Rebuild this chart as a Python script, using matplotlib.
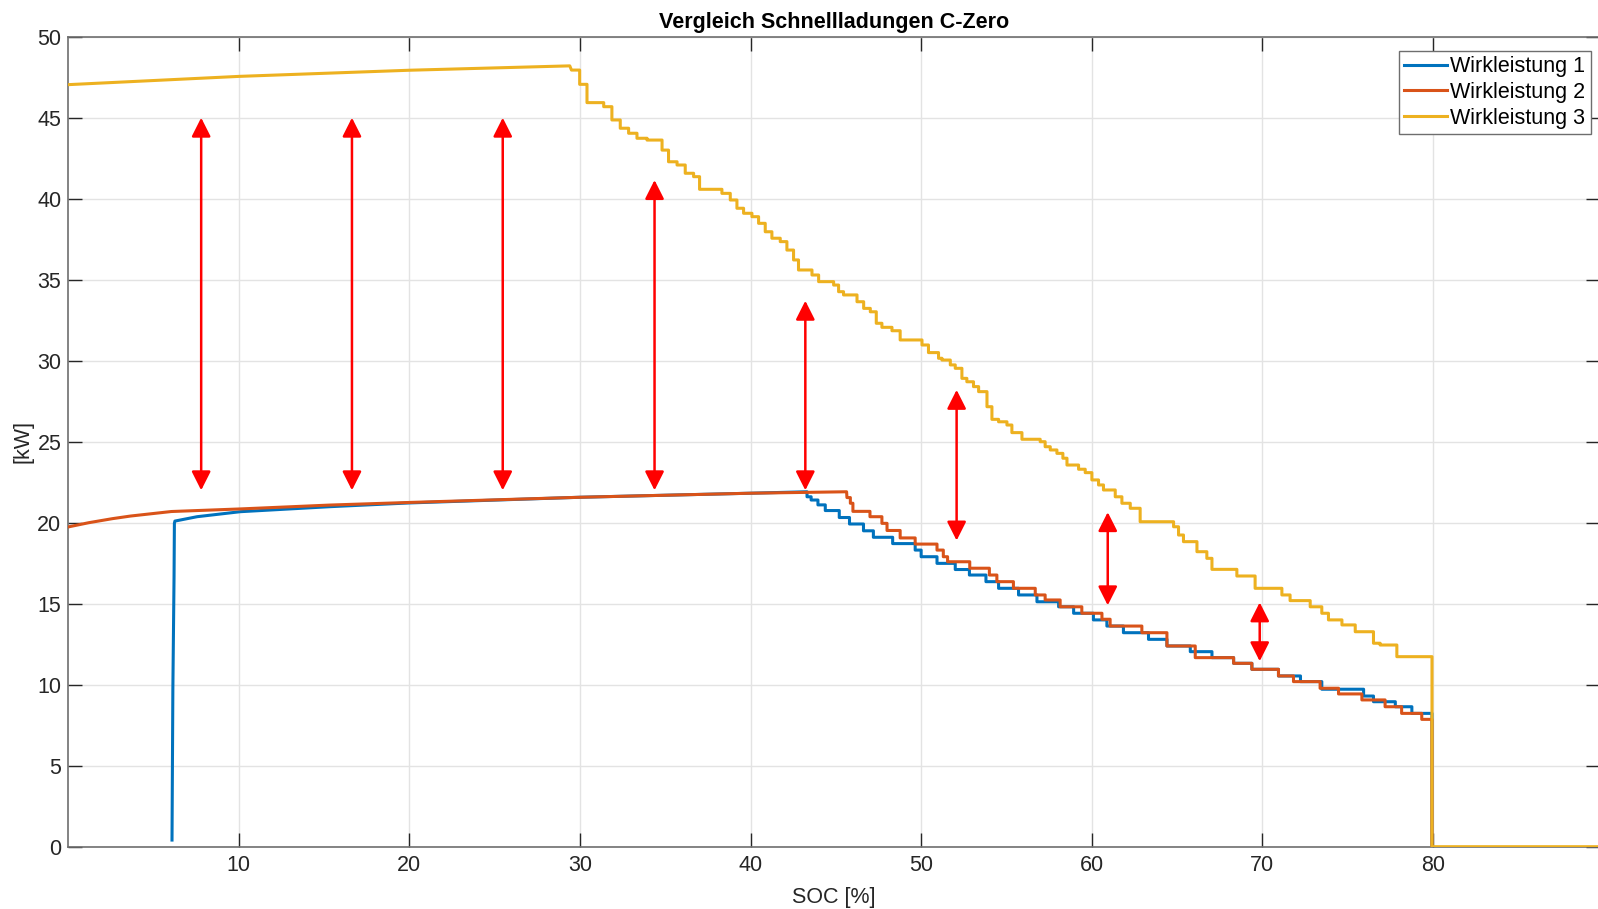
import numpy as np
import matplotlib
matplotlib.use('Agg')
import matplotlib.pyplot as plt
from matplotlib.patches import ArrowStyle

plt.rcParams['font.family'] = ['Liberation Sans', 'DejaVu Sans']

# --- data ---
# smooth rising parts: (SOC, kW)
w1_x = [6.08, 6.13, 6.20, 6.22, 6.25, 7.55, 10.09, 15.36, 20.0, 30.0, 40.0, 43.31]
w1_y = [0.41, 9.70, 16.7, 19.96, 20.10, 20.37, 20.68, 20.99, 21.22, 21.57, 21.82, 21.91]
w2_x = [0.0, 1.2, 2.59, 3.64, 6.04, 10.09, 15.36, 20.0, 30.0, 40.0, 45.63]
w2_y = [19.74, 20.0, 20.25, 20.41, 20.69, 20.85, 21.09, 21.25, 21.57, 21.82, 21.91]
w3_x = [0.0, 10.0, 20.0, 29.4]
w3_y = [47.04, 47.55, 47.93, 48.20]

# staircase parts: step start SOC and level
w1_sx = [43.31, 43.55, 43.95, 44.38, 45.20, 45.80, 46.62, 47.20, 48.33, 49.65, 50.00,
         50.93, 52.00, 52.83, 53.80, 54.54, 55.71, 56.79, 58.06, 58.94, 60.10, 60.89,
         61.86, 63.33, 64.41, 65.78, 67.05, 68.32, 69.39, 70.95, 72.24, 73.49, 75.94,
         76.52, 77.80, 78.77, 79.95]
w1_sy = [21.60, 21.40, 21.10, 20.75, 20.32, 19.92, 19.50, 19.10, 18.71, 18.31, 17.90,
         17.49, 17.11, 16.77, 16.36, 15.95, 15.54, 15.12, 14.81, 14.41, 14.00, 13.62,
         13.21, 12.80, 12.39, 12.04, 11.67, 11.32, 10.95, 10.54, 10.19, 9.72, 9.30,
         8.95, 8.64, 8.23, 0.0]
w2_sx = [45.65, 45.85, 46.00, 47.00, 47.70, 48.00, 48.77, 49.65, 50.93, 51.30, 51.55,
         52.85, 54.00, 54.44, 55.41, 56.69, 57.27, 58.15, 59.42, 60.60, 61.08, 62.94,
         64.41, 66.07, 68.32, 69.39, 70.95, 71.83, 73.39, 74.47, 75.84, 77.20, 78.17,
         79.35, 79.95]
w2_sy = [21.55, 21.20, 20.70, 20.37, 19.96, 19.52, 19.06, 18.68, 18.31, 17.90, 17.59,
         17.19, 16.77, 16.36, 15.95, 15.54, 15.23, 14.81, 14.41, 14.04, 13.62, 13.21,
         12.39, 11.67, 11.32, 10.95, 10.54, 10.19, 9.78, 9.43, 9.06, 8.64, 8.23,
         7.86, 0.0]
w3_sx = [29.50, 29.98, 30.41, 31.39, 31.87, 32.36, 32.85, 33.34, 33.93, 34.81, 35.19,
         35.69, 36.17, 36.66, 37.01, 38.32, 38.81, 39.20, 39.59, 40.08, 40.47, 40.86,
         41.25, 41.74, 42.13, 42.52, 42.81, 43.60, 43.99, 44.87, 45.16, 45.45, 46.24,
         46.63, 47.02, 47.37, 47.70, 48.29, 48.77, 50.05, 50.43, 51.02, 51.22, 51.71,
         52.00, 52.39, 52.68, 53.07, 53.37, 53.86, 54.15, 54.54, 55.03, 55.32, 55.91,
         56.98, 57.27, 57.57, 57.96, 58.31, 58.55, 59.23, 59.62, 60.01, 60.40, 60.69,
         61.38, 61.77, 62.26, 62.84, 64.80, 65.09, 65.38, 66.17, 66.75, 67.05, 68.51,
         69.58, 71.15, 71.63, 72.81, 73.49, 73.88, 74.67, 75.45, 76.52, 76.91, 77.89,
         79.95]
w3_sy = [47.94, 47.06, 45.93, 45.68, 44.86, 44.35, 44.04, 43.73, 43.62, 43.00, 42.28,
         42.08, 41.57, 41.36, 40.58, 40.33, 39.92, 39.41, 39.10, 38.89, 38.48, 37.96,
         37.56, 37.35, 36.83, 36.22, 35.60, 35.29, 34.88, 34.67, 34.26, 34.06, 33.64,
         33.23, 33.02, 32.31, 32.06, 31.85, 31.28, 30.97, 30.50, 30.15, 30.04, 29.74,
         29.53, 28.91, 28.70, 28.40, 28.09, 27.16, 26.38, 26.23, 26.03, 25.56, 25.15,
         25.00, 24.69, 24.49, 24.28, 23.98, 23.56, 23.30, 23.09, 22.64, 22.33, 22.02,
         21.60, 21.20, 20.89, 20.06, 19.75, 19.24, 18.83, 18.21, 17.80, 17.12, 16.71,
         15.95, 15.54, 15.19, 14.81, 14.41, 14.00, 13.69, 13.27, 12.56, 12.45, 11.73,
         0.0]
w3_end = 89.8

# red double arrows: SOC, lower end, upper end
arrow_x = [7.79, 16.63, 25.47, 34.37, 43.21, 52.08, 60.94, 69.85]
arrow_lo = [22.0, 22.0, 22.0, 22.0, 22.0, 18.9, 14.9, 11.45]
arrow_hi = [45.0, 45.0, 45.0, 41.15, 33.7, 28.2, 20.65, 15.08]


def stairs(sx, sy, x_end):
    px, py = [], []
    for i in range(len(sx)):
        x1 = sx[i + 1] if i + 1 < len(sx) else x_end
        px += [sx[i], x1]
        py += [sy[i], sy[i]]
    return px, py


fig = plt.figure(figsize=(15.98, 9.09), dpi=100)
ax = fig.add_axes([68.3 / 1598, 62.3 / 909, (1600 - 68.3) / 1598, 810 / 909])

colors = ['#0072BD', '#D95319', '#EDB120']
series = [(w1_x, w1_y, w1_sx, w1_sy, 79.95),
          (w2_x, w2_y, w2_sx, w2_sy, 79.95),
          (w3_x, w3_y, w3_sx, w3_sy, w3_end)]
for i, (x, y, sx, sy, xe) in enumerate(series):
    px, py = stairs(sx, sy, xe)
    ax.plot(list(x) + px, list(y) + py, color=colors[i], linewidth=2.2,
            label='Wirkleistung %d' % (i + 1), zorder=3)

style = ArrowStyle('<|-|>', head_length=11.5, head_width=5.8)
for x, lo, hi in zip(arrow_x, arrow_lo, arrow_hi):
    ax.annotate('', xy=(x, hi), xytext=(x, lo),
                arrowprops=dict(arrowstyle=style, color='#ff0000', lw=1.8,
                                shrinkA=0, shrinkB=0, mutation_scale=1),
                zorder=4)

ax.set_xlim(0, 89.8)
ax.set_ylim(0, 50)
ax.set_xticks(np.arange(10, 90, 10))
ax.set_yticks(np.arange(0, 55, 5))
ax.grid(True, color='#e3e3e3', linewidth=1.0)
ax.set_axisbelow(True)
ax.tick_params(direction='in', length=10, width=1.0, top=True, right=True,
               labelsize=15.5, colors='#262626', pad=6)
ax.tick_params(axis='y', pad=5)
for s in ax.spines.values():
    s.set_color('#6e6e6e')
    s.set_linewidth(1.2)

ax.set_title('Vergleich Schnellladungen C-Zero', fontsize=15.5, fontweight='bold',
             pad=6)
ax.set_xlabel('SOC [%]', fontsize=15.5, color='#262626', labelpad=8)
ax.set_ylabel('[kW]', fontsize=15.5, color='#262626', labelpad=3)

leg = ax.legend(loc='upper right', bbox_to_anchor=(1590.7 / 1598, 1 - 50.7 / 909),
                bbox_transform=fig.transFigure, borderaxespad=0, fontsize=15.5,
                handlelength=2.0, handletextpad=0.15, labelspacing=0.22,
                borderpad=0.25, fancybox=False, framealpha=1, edgecolor='#6e6e6e')
leg.get_frame().set_linewidth(1.0)

plt.savefig('out.png', dpi=100)
